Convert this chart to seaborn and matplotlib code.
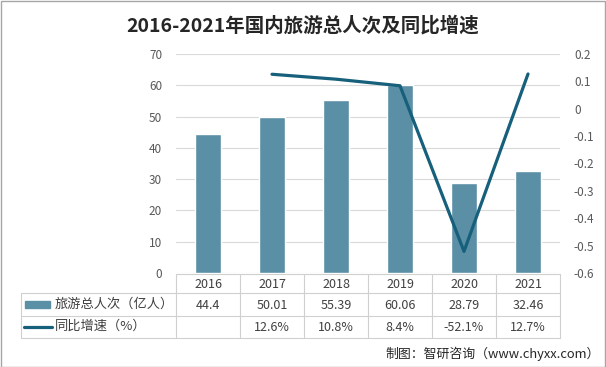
import numpy as np
import pandas as pd
import seaborn as sns
import matplotlib.pyplot as plt
from matplotlib.patches import Rectangle

# datos
anios = ['2016', '2017', '2018', '2019', '2020', '2021']
turistas = [44.4, 50.01, 55.39, 60.06, 28.79, 32.46]
crecimiento = [np.nan, 0.126, 0.108, 0.084, -0.521, 0.127]
crec_txt = ['', '12.6%', '10.8%', '8.4%', '-52.1%', '12.7%']
nombre_barra = '旅游总人次（亿人）'
nombre_linea = '同比增速（%）'
titulo = '2016-2021年国内旅游总人次及同比增速'
fuente = '制图：智研咨询（www.chyxx.com）'

sns.set_style('white')
plt.rcParams['font.family'] = ['Noto Sans CJK SC', 'DejaVu Sans']

color_barra = '#5b8fa6'
color_linea = '#17607c'
gris = '#595959'

W, H = 606, 367
fig = plt.figure(figsize=(W / 100, H / 100), dpi=100)

def caja(x0, y0, x1, y1):
    return [x0 / W, 1 - y1 / H, (x1 - x0) / W, (y1 - y0) / H]

df = pd.DataFrame({'anio': anios, 'turistas': turistas, 'crec': crecimiento})
df['pos'] = np.arange(len(anios))

ax = fig.add_axes(caja(176, 54, 560, 273))
sns.barplot(data=df, x='pos', y='turistas', color=color_barra, width=0.4,
            saturation=1, ax=ax, native_scale=True)
ax.set_xlim(-0.5, 5.5)
ax.set_ylim(0, 70)
ax.set_yticks(range(0, 71, 10))
ax.yaxis.grid(True, color='#d9d9d9', lw=0.8)
ax.set_axisbelow(True)
ax.set_xticks([])
ax.set_xlabel('')
ax.set_ylabel('')
for s in ax.spines.values():
    s.set_visible(False)
ax.tick_params(axis='y', length=0, labelsize=8.5, labelcolor=gris, pad=10)

ax2 = ax.twinx()
sns.lineplot(data=df, x='pos', y='crec', color=color_linea, lw=2.3, ax=ax2)
ax2.set_ylim(-0.6, 0.2)
ax2.set_yticks(np.round(np.arange(-0.6, 0.21, 0.1), 1))
ax2.set_yticklabels(['-0.6', '-0.5', '-0.4', '-0.3', '-0.2', '-0.1', '0', '0.1', '0.2'])
ax2.set_xlim(-0.5, 5.5)
ax2.set_ylabel('')
for s in ax2.spines.values():
    s.set_visible(False)
ax2.tick_params(axis='y', length=0, labelsize=8.5, labelcolor=gris, pad=10)

# tabla de datos
tb = fig.add_axes(caja(0, 273, W, 340))
tb.set_xlim(0, W)
tb.set_ylim(340, 273)
tb.axis('off')
lc = '#d0d0d0'
x_cols = [176 + 64 * i for i in range(7)]
tb.plot([176, 560], [274, 274], color=lc, lw=0.8)
for yy in [293, 316, 338]:
    tb.plot([21, 560], [yy, yy], color=lc, lw=0.8)
tb.plot([21, 21], [293, 338], color=lc, lw=0.8)
for xx in x_cols:
    tb.plot([xx, xx], [274, 338], color=lc, lw=0.8)
for i, a in enumerate(anios):
    xc = 176 + 64 * i + 32
    tb.text(xc, 284, a, ha='center', va='center', fontsize=9, color='#404040')
    tb.text(xc, 305, f'{turistas[i]:g}', ha='center', va='center', fontsize=9, color='#404040')
    tb.text(xc, 327, crec_txt[i], ha='center', va='center', fontsize=9, color='#404040')
tb.add_patch(Rectangle((25, 300.5), 25, 7, color=color_barra))
tb.plot([24, 52], [327, 327], color=color_linea, lw=2.3)
tb.text(55, 304.5, nombre_barra, ha='left', va='center', fontsize=9.5, color='#404040')
tb.text(55, 326.5, nombre_linea, ha='left', va='center', fontsize=9.5, color='#404040')

fig.text(0.5, 1 - 26 / H, titulo, ha='center', va='center', fontsize=14,
         fontweight='bold', color='#262626')
fig.text(1 - 6 / W, 1 - 354 / H, fuente, ha='right', va='center', fontsize=9.3,
         color='#262626')
fig.add_artist(Rectangle((0.5 / W, 0.5 / H), 1 - 1.5 / W, 1 - 1.5 / H,
                         transform=fig.transFigure, fill=False, ec='#a6a6a6', lw=1))

fig.savefig('out.png', dpi=100)
